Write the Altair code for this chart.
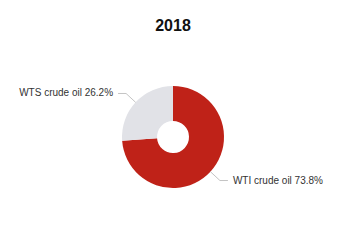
import altair as alt
import pandas as pd

# ---- data ----
names = ["WTI crude oil", "WTS crude oil"]
shares = [73.8, 26.2]
ranks = [0, 1]
colors = ["#BF2218", "#E1E2E7"]

df = pd.DataFrame({"name": names, "share": shares, "rank": ranks})

# ---- layout / style ----
W, H = 346, 240
CX, CY = 173, 137
R_OUT, R_IN = 51, 16
L1, L2, GAP = 13, 8, 5
FONT = "Liberation Sans"

xs = alt.Scale(domain=[0, W], range=[0, W])
ys = alt.Scale(domain=[0, H], range=[0, H])

arc = alt.Chart(df).mark_arc(
    outerRadius=R_OUT, innerRadius=R_IN, x=CX, y=CY
).encode(
    theta=alt.Theta("share:Q", stack=True),
    order=alt.Order("rank:Q"),
    color=alt.Color("name:N", scale=alt.Scale(domain=names, range=colors), legend=None),
)

geo = alt.Chart(df).transform_joinaggregate(
    total="sum(share)"
).transform_window(
    cum="sum(share)", sort=[alt.SortField("rank")], frame=[None, 0]
).transform_calculate(
    mid="2*PI*(datum.cum - datum.share/2)/datum.total"
).transform_calculate(
    side="sin(datum.mid) >= 0 ? 1 : -1",
    sx=f"{CX} + {R_OUT}*sin(datum.mid)",
    sy=f"{CY} - {R_OUT}*cos(datum.mid)",
    kx=f"{CX} + {R_OUT + L1}*sin(datum.mid)",
    ky=f"{CY} - {R_OUT + L1}*cos(datum.mid)",
    label="datum.name + ' ' + format(datum.share, '.1f') + '%'",
).transform_calculate(
    ex=f"datum.kx + datum.side*{L2}",
    tx=f"datum.kx + datum.side*{L2 + GAP}",
)

line_col = "#C4C4C4"
seg1 = geo.mark_rule(color=line_col, strokeWidth=1).encode(
    x=alt.X("sx:Q", scale=xs, axis=None),
    y=alt.Y("sy:Q", scale=ys, axis=None),
    x2="kx:Q",
    y2="ky:Q",
)
seg2 = geo.mark_rule(color=line_col, strokeWidth=1).encode(
    x=alt.X("kx:Q", scale=xs, axis=None),
    y=alt.Y("ky:Q", scale=ys, axis=None),
    x2="ex:Q",
)

txt_right = geo.transform_filter("datum.side > 0").mark_text(
    align="left", baseline="middle", font=FONT, fontSize=10, color="#333333"
).encode(
    x=alt.X("tx:Q", scale=xs, axis=None),
    y=alt.Y("ky:Q", scale=ys, axis=None),
    text="label:N",
)
txt_left = geo.transform_filter("datum.side < 0").mark_text(
    align="right", baseline="middle", font=FONT, fontSize=10, color="#333333"
).encode(
    x=alt.X("tx:Q", scale=xs, axis=None),
    y=alt.Y("ky:Q", scale=ys, axis=None),
    text="label:N",
)

chart = alt.layer(arc, seg1, seg2, txt_right, txt_left).properties(
    width=W,
    height=H,
    padding=0,
    autosize=alt.AutoSizeParams(type="none"),
    title=alt.TitleParams(
        "2018", font=FONT, fontSize=16, fontWeight="bold", color="#111111",
        anchor="middle", frame="group", baseline="alphabetic", offset=0, dy=47,
    ),
).configure_view(stroke=None)

chart.save("out.html", embed_options={"renderer": "svg", "actions": False})
